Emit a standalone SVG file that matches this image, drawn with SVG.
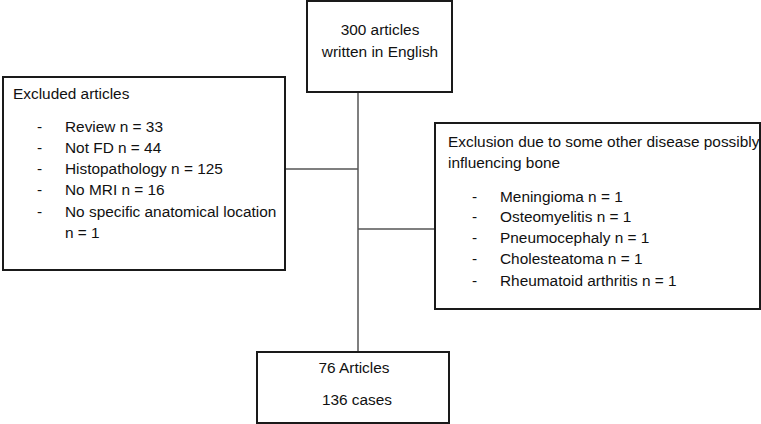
<svg xmlns="http://www.w3.org/2000/svg" width="761" height="424" viewBox="0 0 761 424">
<style>
.box{fill:#fff;stroke:#1a1a1a;stroke-width:2}
.t{font-family:"Liberation Sans",Arial,sans-serif;font-size:15.4px;fill:#111}
.c{text-anchor:middle}
.conn{stroke:#555;stroke-width:1.5;fill:none}
</style>
<rect width="761" height="424" fill="#fff"/>
<g id="connectors">
<line class="conn" x1="358" y1="92" x2="358" y2="352"/>
<line class="conn" x1="285" y1="169" x2="358" y2="169"/>
<line class="conn" x1="358" y1="229" x2="435" y2="229"/>
</g>
<g id="n_top">
<rect class="box" x="307" y="1" width="145" height="91"/>
<text class="t c" x="380" y="35">300 articles</text>
<text class="t c" x="380" y="57">written in English</text>
</g>
<g id="n_excluded">
<rect class="box" x="3" y="77" width="282" height="193"/>
<text class="t" x="13" y="99">Excluded articles</text>
<text class="t" x="37" y="132">-</text><text class="t" x="65" y="132">Review n = 33</text>
<text class="t" x="37" y="153">-</text><text class="t" x="65" y="153">Not FD n = 44</text>
<text class="t" x="37" y="174">-</text><text class="t" x="65" y="174">Histopathology n = 125</text>
<text class="t" x="37" y="195">-</text><text class="t" x="65" y="195">No MRI n = 16</text>
<text class="t" x="37" y="217">-</text><text class="t" x="65" y="217">No specific anatomical location</text>
<text class="t" x="65" y="238">n = 1</text>
</g>
<g id="n_disease">
<rect class="box" x="435" y="123" width="325" height="186"/>
<text class="t" x="448" y="147">Exclusion due to some other disease possibly</text>
<text class="t" x="448" y="168">influencing bone</text>
<text class="t" x="472" y="202">-</text><text class="t" x="500" y="202">Meningioma n = 1</text>
<text class="t" x="472" y="222">-</text><text class="t" x="500" y="222">Osteomyelitis n = 1</text>
<text class="t" x="472" y="243">-</text><text class="t" x="500" y="243">Pneumocephaly n = 1</text>
<text class="t" x="472" y="264">-</text><text class="t" x="500" y="264">Cholesteatoma n = 1</text>
<text class="t" x="472" y="286">-</text><text class="t" x="500" y="286">Rheumatoid arthritis n = 1</text>
</g>
<g id="n_result">
<rect class="box" x="257" y="352" width="192" height="71"/>
<text class="t c" x="354" y="373">76 Articles</text>
<text class="t c" x="357" y="405">136 cases</text>
</g>
</svg>
